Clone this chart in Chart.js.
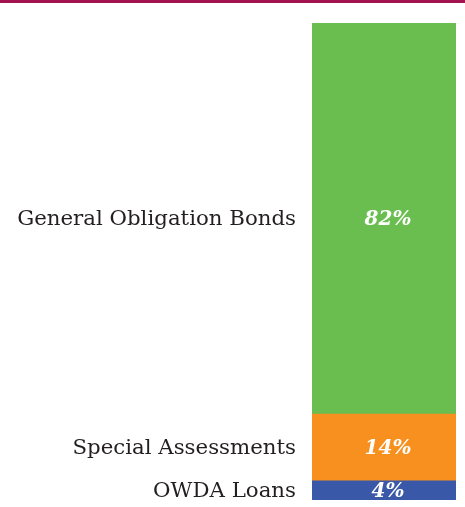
<!DOCTYPE html>
<html>
<head>
<meta charset="utf-8">
<script src="https://cdn.jsdelivr.net/npm/chart.js@4"></script>
<style>
html,body{margin:0;padding:0;background:#fff;}
canvas{display:block;}
</style>
</head>
<body>
<canvas id="c" width="465" height="507"></canvas>
<script>
const categories = ["Debt"];
const seriesNames = ["OWDA Loans", "Special Assessments", "General Obligation Bonds"];
const seriesValues = [4, 14, 82];
const seriesColors = ["#3A58A8", "#F7901E", "#6ABE4F"];

const sideLabels = {
  id: 'sideLabels',
  beforeDraw(chart) {
    const ctx = chart.ctx;
    ctx.save();
    ctx.fillStyle = '#A3134F';
    ctx.fillRect(0, 0, chart.width, 3);
    ctx.restore();
  },
  afterDatasetsDraw(chart) {
    const ctx = chart.ctx;
    ctx.save();
    chart.data.datasets.forEach((ds, i) => {
      const meta = chart.getDatasetMeta(i);
      meta.data.forEach((bar) => {
        const p = bar.getProps(['x', 'y', 'base', 'width'], true);
        const cy = (p.y + p.base) / 2;
        const left = p.x - p.width / 2;
        ctx.textBaseline = 'middle';
        ctx.fillStyle = '#231F20';
        ctx.font = '21.3px "DejaVu Serif"';
        ctx.textAlign = 'right';
        ctx.fillText(ds.label, left - 16, cy + 1);
        ctx.fillStyle = '#FFFFFF';
        ctx.font = 'italic bold 20px "DejaVu Serif"';
        ctx.textAlign = 'center';
        ctx.fillText(ds.data[0] + '%', p.x + 4, cy + 1);
      });
    });
    ctx.restore();
  }
};

new Chart(document.getElementById('c'), {
  type: 'bar',
  data: {
    labels: categories,
    datasets: seriesNames.map((n, i) => ({
      label: n,
      data: [seriesValues[i]],
      backgroundColor: seriesColors[i],
      borderWidth: 0,
      categoryPercentage: 1,
      barPercentage: 1
    }))
  },
  options: {
    responsive: false,
    devicePixelRatio: 1,
    animation: false,
    layout: { padding: { left: 312, right: 9, top: 23, bottom: 7 } },
    plugins: { legend: { display: false }, tooltip: { enabled: false } },
    scales: {
      x: { stacked: true, display: false },
      y: { stacked: true, display: false, min: 0, max: 100 }
    }
  },
  plugins: [sideLabels]
});
</script>
</body>
</html>
